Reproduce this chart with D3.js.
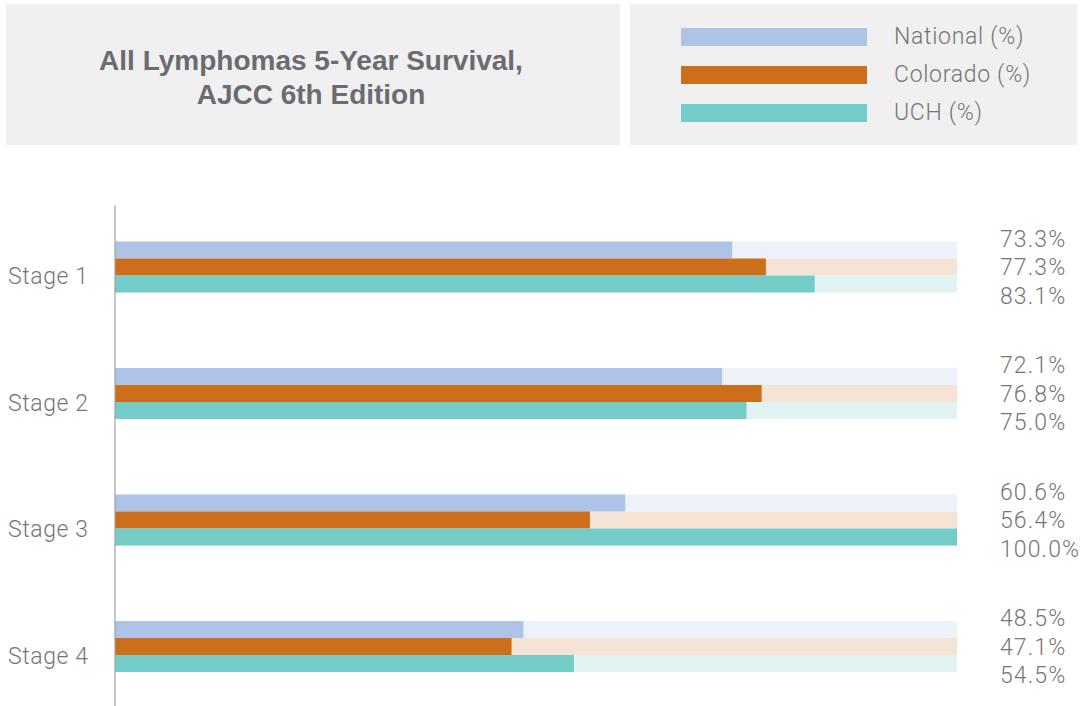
<!DOCTYPE html>
<html>
<head>
<meta charset="utf-8">
<script src="https://cdn.jsdelivr.net/npm/d3@7"></script>
<style>
  html, body { margin: 0; padding: 0; background: #ffffff; }
  svg { display: block; }
</style>
</head>
<body>
<svg id="chart" width="1086" height="706"></svg>
<script>
// Survival data, in percent
const stages = ["Stage 1", "Stage 2", "Stage 3", "Stage 4"];
const seriesNames = ["National (%)", "Colorado (%)", "UCH (%)"];
const national = [73.3, 72.1, 60.6, 48.5];
const colorado = [77.3, 76.8, 56.4, 47.1];
const uch = [83.1, 75.0, 100.0, 54.5];
const titleLines = ["All Lymphomas 5-Year Survival,", "AJCC 6th Edition"];

const seriesValues = [national, colorado, uch];
const barColors = ["#aec4e6", "#cd6f1a", "#74ccc8"];
const trackColors = ["#edf2fa", "#f5e3d5", "#e1f3f2"];

const svg = d3.select("#chart");
const textColor = "#767676";
const lightFont = "Roboto, 'Liberation Sans', sans-serif";

// Header panels
svg.append("rect").attr("x", 6).attr("y", 4).attr("width", 614).attr("height", 141).attr("fill", "#f0f0f0");
svg.append("rect").attr("x", 630).attr("y", 4).attr("width", 447).attr("height", 141).attr("fill", "#f0f0f0");

const title = svg.append("text")
  .attr("x", 311).attr("y", 70)
  .attr("text-anchor", "middle")
  .attr("font-family", "'Liberation Sans', Arial, sans-serif")
  .attr("font-weight", "bold")
  .attr("font-size", 28)
  .attr("fill", "#6b6b70");
title.selectAll("tspan").data(titleLines).join("tspan")
  .attr("x", 311)
  .attr("dy", (d, i) => i === 0 ? 0 : 34)
  .text(d => d);

// Legend
const legendY = d3.scalePoint().domain(seriesNames).range([37, 113]);
const legend = svg.append("g");
legend.selectAll("rect").data(seriesNames).join("rect")
  .attr("x", 681).attr("y", d => legendY(d) - 9)
  .attr("width", 186).attr("height", 18)
  .attr("fill", (d, i) => barColors[i]);
legend.selectAll("text").data(seriesNames).join("text")
  .attr("x", 894).attr("y", d => legendY(d) - 1)
  .attr("dy", "0.35em")
  .attr("font-family", lightFont)
  .attr("font-weight", 300)
  .attr("font-size", 23)
  .attr("letter-spacing", 0.7)
  .attr("fill", textColor)
  .text(d => d);

// Scales
const x = d3.scaleLinear().domain([0, 100]).range([115, 957]);
const yStage = d3.scalePoint().domain(stages).range([267, 646.5]);
const yBar = d3.scaleBand().domain(d3.range(seriesNames.length)).range([-25.5, 25.5]).padding(0);
const yLabel = d3.scalePoint().domain(d3.range(seriesNames.length)).range([-28.5, 28.5]);

const rows = stages.map((s, si) => ({
  stage: s,
  bars: seriesValues.map((vals, k) => ({ k, value: vals[si] }))
}));

const groups = svg.append("g").selectAll("g").data(rows).join("g")
  .attr("transform", d => `translate(0,${yStage(d.stage)})`);

// Full-width tracks behind each bar
groups.selectAll("rect.track").data(d => d.bars).join("rect")
  .attr("class", "track")
  .attr("x", x(0)).attr("y", d => yBar(d.k))
  .attr("width", x(100) - x(0)).attr("height", yBar.bandwidth())
  .attr("fill", d => trackColors[d.k]);

groups.selectAll("rect.bar").data(d => d.bars).join("rect")
  .attr("class", "bar")
  .attr("x", x(0)).attr("y", d => yBar(d.k))
  .attr("width", d => x(d.value) - x(0)).attr("height", yBar.bandwidth())
  .attr("fill", d => barColors[d.k]);

// Value labels
groups.selectAll("text.value").data(d => d.bars).join("text")
  .attr("class", "value")
  .attr("x", 1000).attr("y", d => yLabel(d.k))
  .attr("dy", "0.35em")
  .attr("font-family", lightFont)
  .attr("font-weight", 300)
  .attr("font-size", 23)
  .attr("letter-spacing", 1.1)
  .attr("fill", textColor)
  .text(d => d.value.toFixed(1) + "%");

// Stage labels
groups.append("text")
  .attr("x", 8).attr("y", 9)
  .attr("dy", "0.35em")
  .attr("font-family", lightFont)
  .attr("font-weight", 300)
  .attr("font-size", 23)
  .attr("letter-spacing", 0.6)
  .attr("fill", textColor)
  .text(d => d.stage);

// Vertical axis line
const yAxis = d3.axisLeft(d3.scaleLinear().range([205, 706])).ticks(0).tickSize(0).tickFormat("");
svg.append("g").attr("transform", "translate(114.5,0)").call(yAxis)
  .select(".domain").attr("stroke", "#a0a0a0").attr("stroke-width", 1.2);
</script>
</body>
</html>
